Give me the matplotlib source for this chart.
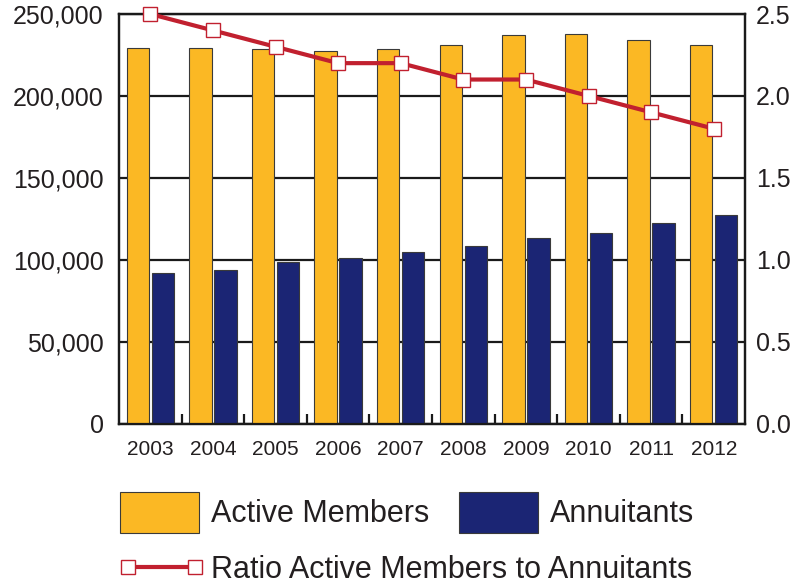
import matplotlib
matplotlib.use("Agg")
import matplotlib.pyplot as plt
from matplotlib.patches import Patch
from matplotlib.lines import Line2D
from matplotlib.ticker import FuncFormatter, FixedLocator
import numpy as np

plt.rcParams["font.family"] = ["Liberation Sans", "DejaVu Sans"]

# ─────────────────────────────────────────────
# DATA
# ─────────────────────────────────────────────
years = ["2003", "2004", "2005", "2006", "2007", "2008", "2009", "2010", "2011", "2012"]
active_members = [229200, 229200, 228400, 227400, 228900, 231100, 237000, 237800, 234400, 231300]
annuitants = [91900, 93900, 98800, 101000, 104900, 108600, 113000, 116500, 122400, 127300]
ratio = [2.5, 2.4, 2.3, 2.2, 2.2, 2.1, 2.1, 2.0, 1.9, 1.8]

left_ticks = [0, 50000, 100000, 150000, 200000, 250000]
right_ticks = [0.0, 0.5, 1.0, 1.5, 2.0, 2.5]

# colours
YELLOW = "#FBB824"
NAVY = "#1B2574"
RED = "#C1202F"
EDGE = "#3a3a3a"

x = np.arange(len(years))
bar_w = 0.36

fig = plt.figure(figsize=(8.09, 5.86), dpi=100)
ax = fig.add_axes([0.1471, 0.2773, 0.7738, 0.6988])
ax2 = ax.twinx()

ax.bar(x - 0.2, active_members, width=bar_w, color=YELLOW, edgecolor=EDGE, linewidth=0.8, zorder=3)
ax.bar(x + 0.2, annuitants, width=bar_w, color=NAVY, edgecolor=EDGE, linewidth=0.8, zorder=3)

ax2.plot(x, ratio, color=RED, linewidth=3, marker="s", markersize=10,
         markerfacecolor="white", markeredgecolor=RED, markeredgewidth=1.0,
         zorder=5, clip_on=False)

# axes ranges
ax.set_xlim(-0.5, len(years) - 0.5)
ax.set_ylim(0, 250000)
ax2.set_ylim(0, 2.5)

# grid
ax.set_axisbelow(True)
ax.yaxis.grid(True, color="#1a1a1a", linewidth=1.6)

# ticks
ax.set_yticks(left_ticks)
ax.yaxis.set_major_formatter(FuncFormatter(lambda v, p: "0" if v == 0 else f"{v:,.0f}"))
ax.tick_params(axis="y", length=0, pad=11, labelsize=18, labelcolor="#231f20")
ax2.set_yticks(right_ticks)
ax2.yaxis.set_major_formatter(FuncFormatter(lambda v, p: f"{v:.1f}"))
ax2.tick_params(axis="y", length=0, pad=8, labelsize=18, labelcolor="#231f20")

ax.set_xticks(x)
ax.set_xticklabels(years)
ax.tick_params(axis="x", which="major", length=0, pad=12, labelsize=15, labelcolor="#231f20")
ax.xaxis.set_minor_locator(FixedLocator(x[:-1] + 0.5))
ax.tick_params(axis="x", which="minor", direction="in", length=7, width=1.6, color="#1a1a1a")

for a in (ax, ax2):
    for s in a.spines.values():
        s.set_linewidth(1.6)
        s.set_color("#1a1a1a")

# ─────────────────────────────────────────────
# LEGENDS
# ─────────────────────────────────────────────
LEG_FS = 22
em = LEG_FS * 100 / 72  # font size in pixels
patch_h = 41
# matplotlib trims 0.35*fs*(hh-0.7) off the handle height, so solve for hh
hh = (patch_h - 0.245 * em) / (0.65 * em)

bar_handles = [
    Patch(facecolor=YELLOW, edgecolor=EDGE, linewidth=0.8, label="Active Members"),
    Patch(facecolor=NAVY, edgecolor=EDGE, linewidth=0.8, label="Annuitants"),
]
leg1 = fig.legend(handles=bar_handles, loc="upper left", bbox_to_anchor=(120 / 809, 1 - 492 / 586),
                  ncol=2, frameon=False, fontsize=LEG_FS, handlelength=79 / em, handleheight=hh,
                  handletextpad=12 / em, columnspacing=30 / em, borderpad=0, borderaxespad=0)
for t in leg1.get_texts():
    t.set_color("#231f20")

line_handle = Line2D([], [], color=RED, linewidth=3, marker="s", markersize=10,
                     markerfacecolor="white", markeredgecolor=RED, markeredgewidth=1.0,
                     label="Ratio Active Members to Annuitants")
pad = 0.3 * em
leg2 = fig.legend(handles=[line_handle], loc="center left",
                  bbox_to_anchor=((128 - pad) / 809, 1 - 570 / 586),
                  frameon=False, fontsize=LEG_FS, numpoints=2, handlelength=(67 + 2 * pad) / em,
                  handletextpad=(211 - 195 - pad) / em, borderpad=0, borderaxespad=0)
for t in leg2.get_texts():
    t.set_color("#231f20")

fig.savefig("out.png", dpi=100)
